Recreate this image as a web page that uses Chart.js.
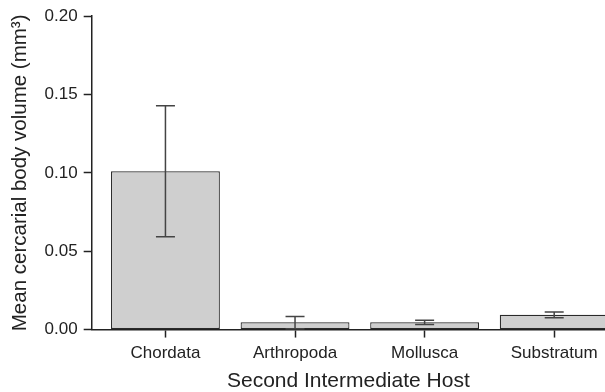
<!DOCTYPE html>
<html>
<head>
<meta charset="utf-8">
<script src="https://cdn.jsdelivr.net/npm/chart.js@4"></script>
<style>
html,body{margin:0;padding:0;background:#fff;overflow:hidden;}
#wrap{width:605px;height:392px;position:relative;}
</style>
</head>
<body>
<div id="wrap"><canvas id="c" width="605" height="392"></canvas></div>
<script>
const categories = ["Chordata", "Arthropoda", "Mollusca", "Substratum"];
const means = [0.101, 0.0047, 0.0046, 0.0094];
const errLow = [0.0592, 0.0005, 0.0033, 0.0076];
const errHigh = [0.1429, 0.0084, 0.0059, 0.0112];
const yTicks = [0, 0.05, 0.10, 0.15, 0.20];

const FONT = "'Liberation Sans', Arial, Helvetica, sans-serif";
const TXT = '#222';

const errorBars = {
  id: 'errorBars',
  afterDatasetsDraw(chart) {
    const {ctx, scales: {x, y}} = chart;
    ctx.save();
    ctx.strokeStyle = '#444';
    ctx.lineWidth = 1.5;
    for (let i = 0; i < categories.length; i++) {
      const px = x.getPixelForValue(i);
      const yl = y.getPixelForValue(errLow[i]);
      const yh = y.getPixelForValue(errHigh[i]);
      const cap = 9.5;
      ctx.beginPath();
      ctx.moveTo(px, yl); ctx.lineTo(px, yh);
      ctx.moveTo(px - cap, yl); ctx.lineTo(px + cap, yl);
      ctx.moveTo(px - cap, yh); ctx.lineTo(px + cap, yh);
      ctx.stroke();
    }
    ctx.restore();
  }
};

new Chart(document.getElementById('c'), {
  type: 'bar',
  data: {
    datasets: [{
      data: means.map((v, i) => ({x: i, y: v})),
      backgroundColor: '#cfcfcf',
      borderColor: '#2a2a2a',
      borderWidth: 1.2,
      borderSkipped: false,
      categoryPercentage: 1,
      barPercentage: 0.84
    }]
  },
  options: {
    responsive: false,
    animation: false,
    events: [],
    layout: {padding: {top: 6, right: 0, left: 8, bottom: 0}},
    plugins: {legend: {display: false}, tooltip: {enabled: false}},
    scales: {
      x: {
        type: 'linear',
        offset: false,
        min: -0.5692,
        max: 3.392,
        afterBuildTicks(scale) {
          scale.ticks = categories.map((c, i) => ({value: i}));
        },
        ticks: {
          autoSkip: false,
          maxRotation: 0,
          padding: 6,
          color: TXT,
          font: {family: FONT, size: 17},
          callback: (v) => categories[v]
        },
        grid: {offset: false, drawOnChartArea: false, drawTicks: true, tickLength: 8, tickColor: '#222', tickWidth: 1.5},
        border: {display: true, color: '#222', width: 1.5},
        title: {display: true, text: 'Second Intermediate Host', color: TXT, font: {family: FONT, size: 21, lineHeight: 1.05}, padding: {top: 0, bottom: 0}}
      },
      y: {
        min: 0,
        max: 0.2,
        afterBuildTicks(scale) {
          scale.ticks = yTicks.map(v => ({value: v}));
        },
        ticks: {
          color: TXT,
          padding: 6,
          font: {family: FONT, size: 17},
          callback: (v) => Number(v).toFixed(2)
        },
        grid: {drawOnChartArea: false, drawTicks: true, tickLength: 8, tickColor: '#222', tickWidth: 1.5},
        border: {display: true, color: '#222', width: 1.5},
        title: {display: true, text: 'Mean cercarial body volume (mm³)', color: TXT, font: {family: FONT, size: 20.5}, padding: {top: 0, bottom: 6}}
      }
    }
  },
  plugins: [errorBars]
});
</script>
</body>
</html>
